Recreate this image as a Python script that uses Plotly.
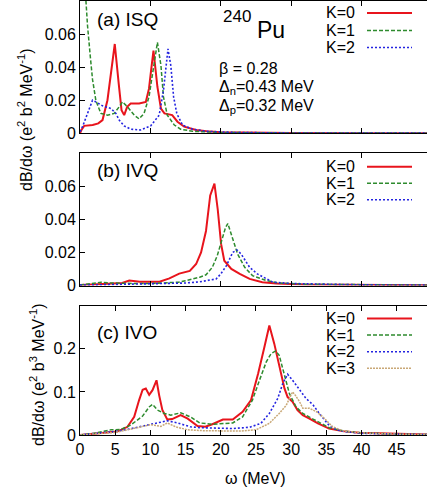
import plotly.graph_objects as go

# ---------------- data: photoabsorption strength dB/dω vs ω (MeV) ----------------
# (a) isoscalar quadrupole
isq_k0_w = [0, 0.2, 0.6, 1.8, 2.6, 3.2, 3.9, 4.4, 4.94, 5.5, 5.9, 6.28, 6.7, 7.2, 8.4, 9.35, 9.8, 10.1, 10.44, 11.0, 11.5, 12.0, 13.1, 13.85, 14.8, 16.5, 18, 20, 25, 30, 40, 49.3]
isq_k0_v = [0.0, 0.002, 0.0045, 0.005, 0.006, 0.008, 0.020, 0.037, 0.054, 0.030, 0.014, 0.011, 0.016, 0.018, 0.018, 0.019, 0.027, 0.038, 0.050, 0.028, 0.015, 0.012, 0.011, 0.007, 0.004, 0.002, 0.0012, 0.0007, 0.0003, 0.0002, 0.0001, 0.0001]
isq_k1_w = [0, 0.4, 0.83, 1.07, 1.45, 1.78, 2.25, 2.96, 3.9, 4.85, 5.57, 6.04, 6.75, 7.7, 8.4, 9.1, 9.8, 10.44, 11.0, 11.5, 11.86, 12.4, 13.4, 14.3, 16, 20, 30, 49.3]
isq_k1_v = [0.16, 0.11, 0.081, 0.065, 0.047, 0.0325, 0.020, 0.012, 0.011, 0.012, 0.016, 0.019, 0.016, 0.011, 0.0087, 0.012, 0.022, 0.041, 0.055, 0.041, 0.022, 0.011, 0.005, 0.0025, 0.0012, 0.0005, 0.0002, 0.0001]
isq_k2_w = [0, 0.36, 1.07, 1.78, 2.25, 3.2, 4.4, 5.1, 5.57, 6.28, 7.2, 8.6, 10.05, 11.25, 11.86, 12.2, 12.5, 12.9, 13.3, 13.75, 14.56, 16, 18, 22, 30, 49.3]
isq_k2_v = [0.001, 0.004, 0.012, 0.020, 0.019, 0.0166, 0.015, 0.012, 0.008, 0.0045, 0.0025, 0.002, 0.0045, 0.011, 0.026, 0.041, 0.051, 0.041, 0.022, 0.012, 0.005, 0.0025, 0.0012, 0.0005, 0.0002, 0.0001]

# (b) isovector quadrupole
ivq_k0_w = [0, 2, 4, 6, 7.0, 8.5, 11.3, 12.7, 14.1, 15.6, 16.5, 17.2, 17.9, 18.5, 19.1, 19.57, 20.05, 20.5, 21.5, 22.7, 24.1, 25.9, 27.9, 32, 40, 49.3]
ivq_k0_v = [0.0003, 0.0005, 0.001, 0.0015, 0.003, 0.0023, 0.0023, 0.0043, 0.0072, 0.0088, 0.013, 0.020, 0.033, 0.0545, 0.0616, 0.046, 0.025, 0.015, 0.010, 0.007, 0.004, 0.002, 0.0012, 0.0006, 0.0003, 0.0002]
ivq_k1_w = [0, 1.5, 3, 4.5, 6, 8, 10, 12, 14, 15.1, 17, 17.9, 18.8, 19.5, 20.05, 20.67, 21.0, 21.7, 22.4, 23.4, 24.5, 26.45, 28.3, 32, 40, 49.3]
ivq_k1_v = [0.0003, 0.001, 0.002, 0.0015, 0.0012, 0.0012, 0.0012, 0.0014, 0.002, 0.003, 0.005, 0.0065, 0.011, 0.018, 0.026, 0.035, 0.0375, 0.028, 0.019, 0.011, 0.006, 0.003, 0.0015, 0.0008, 0.0004, 0.0002]
ivq_k2_w = [0, 4, 8, 12, 15, 17, 19.35, 20.0, 20.8, 21.7, 22.3, 22.9, 24.1, 25.2, 26.2, 27.4, 30, 35, 40, 49.3]
ivq_k2_v = [0.0002, 0.0006, 0.0008, 0.001, 0.0015, 0.0022, 0.004, 0.007, 0.012, 0.020, 0.0215, 0.019, 0.011, 0.007, 0.0045, 0.002, 0.0012, 0.0006, 0.0004, 0.0002]

# (c) isovector octupole
ivo_k0_w = [0, 2, 2.5, 5.3, 6.75, 7.7, 8.4, 8.9, 9.35, 9.83, 10.3, 10.87, 11.25, 11.7, 12.4, 13.1, 14.3, 15.3, 16.7, 17.8, 18.8, 20.3, 21.7, 23.1, 24.3, 25.3, 26.2, 26.9, 27.6, 28.3, 29.05, 29.5, 30.2, 30.9, 31.65, 32.6, 33.8, 35.4, 37.3, 39.7, 45, 49.3]
ivo_k0_v = [0.0, 0.003, 0.005, 0.008, 0.019, 0.042, 0.081, 0.105, 0.108, 0.093, 0.104, 0.127, 0.092, 0.058, 0.036, 0.037, 0.046, 0.038, 0.021, 0.019, 0.025, 0.036, 0.036, 0.054, 0.081, 0.142, 0.204, 0.254, 0.212, 0.158, 0.108, 0.088, 0.077, 0.058, 0.046, 0.038, 0.027, 0.015, 0.009, 0.005, 0.002, 0.001]
ivo_k1_w = [0, 2, 4.4, 5.8, 7.2, 8.9, 9.83, 10.3, 11.0, 11.96, 12.9, 14.3, 15.7, 17.0, 18.8, 19.8, 21.7, 23.1, 24.5, 25.5, 26.45, 27.15, 27.8, 28.3, 29.05, 29.75, 30.7, 31.65, 33.1, 35.4, 37.5, 40, 45, 49.3]
ivo_k1_v = [0.0, 0.004, 0.012, 0.013, 0.023, 0.044, 0.065, 0.071, 0.058, 0.050, 0.046, 0.0515, 0.042, 0.028, 0.025, 0.026, 0.028, 0.042, 0.081, 0.127, 0.169, 0.189, 0.195, 0.185, 0.139, 0.096, 0.065, 0.050, 0.037, 0.017, 0.009, 0.005, 0.002, 0.001]
ivo_k2_w = [0, 3, 5, 6.75, 9.1, 11.0, 12.4, 13.85, 15.7, 17.0, 19.1, 21.7, 24.1, 25.7, 26.9, 28.1, 28.8, 29.5, 30.2, 31.2, 32.1, 33.1, 34.0, 35.4, 36.5, 37.5, 40, 45, 49.3]
ivo_k2_v = [0.0, 0.004, 0.008, 0.013, 0.021, 0.027, 0.033, 0.028, 0.019, 0.017, 0.016, 0.015, 0.018, 0.027, 0.050, 0.085, 0.119, 0.141, 0.127, 0.104, 0.085, 0.070, 0.050, 0.022, 0.012, 0.008, 0.004, 0.002, 0.001]
ivo_k3_w = [0, 3, 5, 6.75, 10.05, 11.5, 12.4, 13.6, 15.3, 17.6, 20, 22.8, 25, 26.9, 28.3, 29.3, 30.2, 30.6, 31.2, 31.65, 32.6, 33.6, 34.5, 35.9, 37.5, 40, 45, 49.3]
ivo_k3_v = [0.0, 0.003, 0.006, 0.012, 0.024, 0.020, 0.028, 0.019, 0.012, 0.010, 0.010, 0.009, 0.012, 0.027, 0.050, 0.069, 0.100, 0.092, 0.077, 0.062, 0.062, 0.054, 0.042, 0.019, 0.009, 0.005, 0.002, 0.001]

k_labels = ["K=0", "K=1", "K=2", "K=3"]

# ---------------- styling ----------------
W, H = 427, 493
ML, MR, MT, MB = 80, 0, 1, 58
FONT = "Liberation Sans, Arial, sans-serif"
STYLES = [
    dict(color="#e8141c", width=2.0, dash="solid"),
    dict(color="#2e8b2e", width=1.5, dash="4px,2px"),
    dict(color="#2424e0", width=1.6, dash="2px,2px"),
    dict(color="#c9a877", width=1.5, dash="2px,1px"),
]


def px_x(px):
    return (px - ML) / (W - ML - MR)


def px_y(py):
    return (H - MB - py) / (H - MT - MB)


panels = [
    dict(series=[(isq_k0_w, isq_k0_v), (isq_k1_w, isq_k1_v), (isq_k2_w, isq_k2_v)],
         yrange=[0, 0.08], ytick=[0, 0.02, 0.04, 0.06], ytext=["0", "0.02", "0.04", "0.06"],
         top=1, bottom=133.3, label="(a) ISQ", label_y=20, legend_y=[13, 30.5, 47.5], xdtick=10),
    dict(series=[(ivq_k0_w, ivq_k0_v), (ivq_k1_w, ivq_k1_v), (ivq_k2_w, ivq_k2_v)],
         yrange=[0, 0.08], ytick=[0, 0.02, 0.04, 0.06], ytext=["0", "0.02", "0.04", "0.06"],
         top=153.3, bottom=285.5, label="(b) IVQ", label_y=170, legend_y=[166.7, 183.3, 199.7], xdtick=10),
    dict(series=[(ivo_k0_w, ivo_k0_v), (ivo_k1_w, ivo_k1_v), (ivo_k2_w, ivo_k2_v), (ivo_k3_w, ivo_k3_v)],
         yrange=[0, 0.3], ytick=[0, 0.1, 0.2], ytext=["0", "0.1", "0.2"],
         top=305.7, bottom=435, label="(c) IVO", label_y=332, legend_y=[318.5, 335, 351.7, 368.3], xdtick=5),
]

fig = go.Figure()
annotations = []
shapes = []
layout_axes = {}

for i, p in enumerate(panels):
    n = "" if i == 0 else str(i + 1)
    xa, ya = "x" + n, "y" + n
    for j, (w, v) in enumerate(p["series"]):
        st = STYLES[j]
        fig.add_trace(go.Scatter(x=w, y=v, mode="lines", xaxis=xa, yaxis=ya,
                                 line=dict(color=st["color"], width=st["width"], dash=st["dash"]),
                                 showlegend=False, hoverinfo="skip"))
        # legend entry: label then line sample
        ly = p["legend_y"][j]
        annotations.append(dict(x=px_x(357), y=px_y(ly), xref="paper", yref="paper",
                                text=k_labels[j], showarrow=False, xanchor="right", yanchor="middle",
                                font=dict(size=16, color="black", family=FONT)))
        shapes.append(dict(type="line", xref="paper", yref="paper",
                           x0=px_x(367), x1=px_x(412), y0=px_y(ly), y1=px_y(ly),
                           line=dict(color=st["color"], width=st["width"], dash=st["dash"])))
    is_bottom = i == 2
    layout_axes["xaxis" + n] = dict(
        domain=[0, 1], range=[0, 49.3], anchor=ya, dtick=p["xdtick"], tick0=0,
        ticks="inside", ticklen=5, tickcolor="black", showline=True, linecolor="black",
        linewidth=1, mirror="ticks", showgrid=False, zeroline=False,
        showticklabels=is_bottom, tickfont=dict(size=16, color="black", family=FONT),
    )
    layout_axes["yaxis" + n] = dict(
        domain=[px_y(p["bottom"]), px_y(p["top"])], range=p["yrange"], anchor=xa,
        tickvals=p["ytick"], ticktext=p["ytext"], ticks="inside", ticklen=5, tickcolor="black",
        showline=True, linecolor="black", linewidth=1, showgrid=False, zeroline=False,
        tickfont=dict(size=16, color="black", family=FONT),
    )
    annotations.append(dict(x=px_x(95), y=px_y(p["label_y"]), xref="paper", yref="paper",
                            text=p["label"], showarrow=False, xanchor="left", yanchor="middle",
                            font=dict(size=19, color="black", family=FONT)))

# nucleus and model parameters
annotations += [
    dict(x=px_x(221), y=px_y(16.5), text="240", font=dict(size=17)),
    dict(x=px_x(255), y=px_y(29.5), text="Pu", font=dict(size=23)),
    dict(x=px_x(217), y=px_y(68.5), text="β = 0.28", font=dict(size=16)),
    dict(x=px_x(217), y=px_y(88), text="Δ<sub>n</sub>=0.43 MeV", font=dict(size=16)),
    dict(x=px_x(217), y=px_y(106), text="Δ<sub>p</sub>=0.32 MeV", font=dict(size=16)),
]
for a in annotations[-5:]:
    a.update(xref="paper", yref="paper", showarrow=False, xanchor="left", yanchor="middle")
    a["font"].update(color="black", family=FONT)

# axis titles
annotations += [
    dict(x=px_x(25), y=px_y(120), xref="paper", yref="paper", showarrow=False, textangle=-90,
         text="dB/dω (e<sup>2</sup> b<sup>2</sup> MeV<sup>-1</sup>)", xanchor="center", yanchor="middle",
         font=dict(size=16, color="black", family=FONT)),
    dict(x=px_x(36.5), y=px_y(374.5), xref="paper", yref="paper", showarrow=False, textangle=-90,
         text="dB/dω (e<sup>2</sup> b<sup>3</sup> MeV<sup>-1</sup>)", xanchor="center", yanchor="middle",
         font=dict(size=16, color="black", family=FONT)),
    dict(x=px_x(255), y=px_y(478), xref="paper", yref="paper", showarrow=False,
         text="ω (MeV)", xanchor="center", yanchor="middle",
         font=dict(size=16, color="black", family=FONT)),
]

fig.update_layout(
    width=W, height=H,
    margin=dict(l=ML, r=MR, t=MT, b=MB, pad=0),
    paper_bgcolor="white", plot_bgcolor="white",
    font=dict(family=FONT, size=16, color="black"),
    annotations=annotations, shapes=shapes, showlegend=False,
    **layout_axes,
)

fig.write_html("out.html")
